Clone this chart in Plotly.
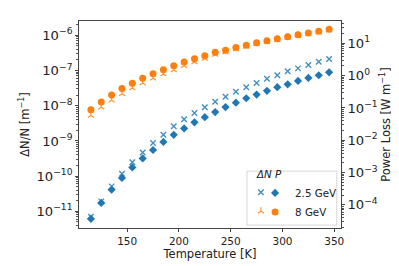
import plotly.graph_objects as go

# ---------------- data ----------------
temperature = [115, 125, 135, 145, 155, 165, 175, 185, 195, 205, 215, 225,
               235, 245, 255, 265, 275, 285, 295, 305, 315, 325, 335, 345]

dn_2p5 = [7.0e-12, 1.92e-11, 5.1e-11, 1.17e-10, 2.47e-10, 4.7e-10, 8.7e-10, 1.5e-9,
          2.6e-9, 4.1e-9, 6.2e-9, 9.0e-9, 1.3e-8, 1.8e-8, 2.5e-8, 3.33e-8,
          4.4e-8, 5.85e-8, 7.3e-8, 9.5e-8, 1.15e-7, 1.43e-7, 1.78e-7, 2.12e-7]

dn_8 = [5.3e-9, 9.0e-9, 1.42e-8, 2.19e-8, 3.18e-8, 4.4e-8, 6.0e-8, 7.9e-8,
        1.03e-7, 1.37e-7, 1.74e-7, 2.19e-7, 2.85e-7, 3.36e-7, 4.08e-7, 4.8e-7,
        5.7e-7, 6.6e-7, 7.5e-7, 8.6e-7, 9.8e-7, 1.09e-6, 1.22e-6, 1.40e-6]

p_2p5 = [3.7e-5, 1.15e-4, 2.95e-4, 6.8e-4, 1.45e-3, 2.75e-3, 5.0e-3, 8.9e-3,
         1.48e-2, 2.33e-2, 3.6e-2, 5.2e-2, 7.5e-2, 0.107, 0.146, 0.20,
         0.26, 0.34, 0.44, 0.54, 0.69, 0.85, 1.03, 1.27]

p_8 = [0.0886, 0.153, 0.252, 0.40, 0.58, 0.83, 1.15, 1.53,
       2.04, 2.66, 3.36, 4.16, 5.3, 6.1, 7.4, 8.7,
       10.5, 12.1, 14.0, 16.1, 18.6, 21.0, 23.7, 27.3]

series_names = ["2.5 GeV", "8 GeV"]
legend_title = "<i>ΔN P</i>"

x_ticks = [150, 200, 250, 300, 350]

# ---------------- style ----------------
BLUE = "#1f77b4"
ORANGE = "#ff7f0e"
BLUE_L = "rgba(31,119,180,0.85)"
ORANGE_L = "rgba(255,127,14,0.85)"
FONT = "DejaVu Sans"
AX = "#444444"
TXT = "#222222"

LEFT_RANGE = [-11.474, -5.594]
RIGHT_RANGE = [-4.715, 1.693]

fig = go.Figure()

# Delta N / N on left axis
fig.add_trace(go.Scatter(
    x=temperature, y=dn_2p5, mode="markers", name="", legend="legend2",
    marker=dict(symbol="x-thin", size=5.5, color=BLUE_L,
                line=dict(width=1.3, color=BLUE_L)),
    xaxis="x", yaxis="y"))
fig.add_trace(go.Scatter(
    x=temperature, y=dn_8, mode="markers", name="", legend="legend2",
    marker=dict(symbol="y-up", size=5, color=ORANGE_L,
                line=dict(width=1.2, color=ORANGE_L)),
    xaxis="x", yaxis="y"))

# Power loss on right axis
fig.add_trace(go.Scatter(
    x=temperature, y=p_2p5, mode="markers", name=series_names[0], legend="legend",
    marker=dict(symbol="diamond", size=6.3, color=BLUE, line=dict(width=0)),
    xaxis="x", yaxis="y2"))
fig.add_trace(go.Scatter(
    x=temperature, y=p_8, mode="markers", name=series_names[1], legend="legend",
    marker=dict(symbol="circle", size=7, color=ORANGE, line=dict(width=0)),
    xaxis="x", yaxis="y2"))

tickfont = dict(family=FONT, size=10.5, color=TXT)
titlefont = dict(family=FONT, size=11.5, color=TXT)
minor = dict(ticks="outside", ticklen=2.2, tickwidth=0.7, tickcolor="#555555",
             dtick="D1", showgrid=False)

log_common = dict(
    type="log", tickmode="linear", tick0=0, dtick=1,
    exponentformat="power", showexponent="all",
    ticks="outside", ticklen=3.5, tickwidth=0.8, tickcolor=AX,
    showline=True, linecolor=AX, linewidth=0.8,
    showgrid=False, zeroline=False, tickfont=tickfont, minor=minor,
)

fig.update_layout(
    width=399, height=266,
    margin=dict(l=71, r=66, t=13, b=46),
    paper_bgcolor="white", plot_bgcolor="white",
    font=dict(family=FONT, size=10.5, color=TXT),
    showlegend=True,
    xaxis=dict(
        range=[103.5, 356.5], tickvals=x_ticks,
        ticks="outside", ticklen=3.5, tickwidth=0.8, tickcolor=AX,
        showline=True, linecolor=AX, linewidth=0.8, mirror=True,
        showgrid=False, zeroline=False, tickfont=tickfont,
        title=dict(text="Temperature [K]", font=titlefont, standoff=2),
    ),
    yaxis=dict(
        range=LEFT_RANGE,
        title=dict(text="ΔN/N [m<sup>−1</sup>]", font=titlefont, standoff=4),
        **log_common,
    ),
    yaxis2=dict(
        range=RIGHT_RANGE, overlaying="y", side="right",
        labelalias={"1": "10<sup>0</sup>", "10": "10<sup>1</sup>"},
        title=dict(text="Power Loss [W m<sup>−1</sup>]", font=titlefont, standoff=4),
        **log_common,
    ),
    legend=dict(
        x=0.672, y=0.304, xanchor="left", yanchor="top",
        bgcolor="rgba(0,0,0,0)", borderwidth=0,
        font=dict(family=FONT, size=10.3, color=TXT),
        title=dict(text=legend_title, font=dict(family=FONT, size=10.3, color=TXT)),
        tracegroupgap=0,
    ),
    legend2=dict(
        x=0.618, y=0.243, xanchor="left", yanchor="top",
        bgcolor="rgba(0,0,0,0)", borderwidth=0,
        font=dict(family=FONT, size=10.3, color=TXT),
        tracegroupgap=0,
    ),
    shapes=[dict(
        type="rect", xref="paper", yref="paper",
        x0=0.641, x1=0.984, y0=0.014, y1=0.275,
        fillcolor="rgba(255,255,255,0.85)", line=dict(color="#cccccc", width=0.8),
        layer="above",
    )],
)

fig.write_html("out.html")
